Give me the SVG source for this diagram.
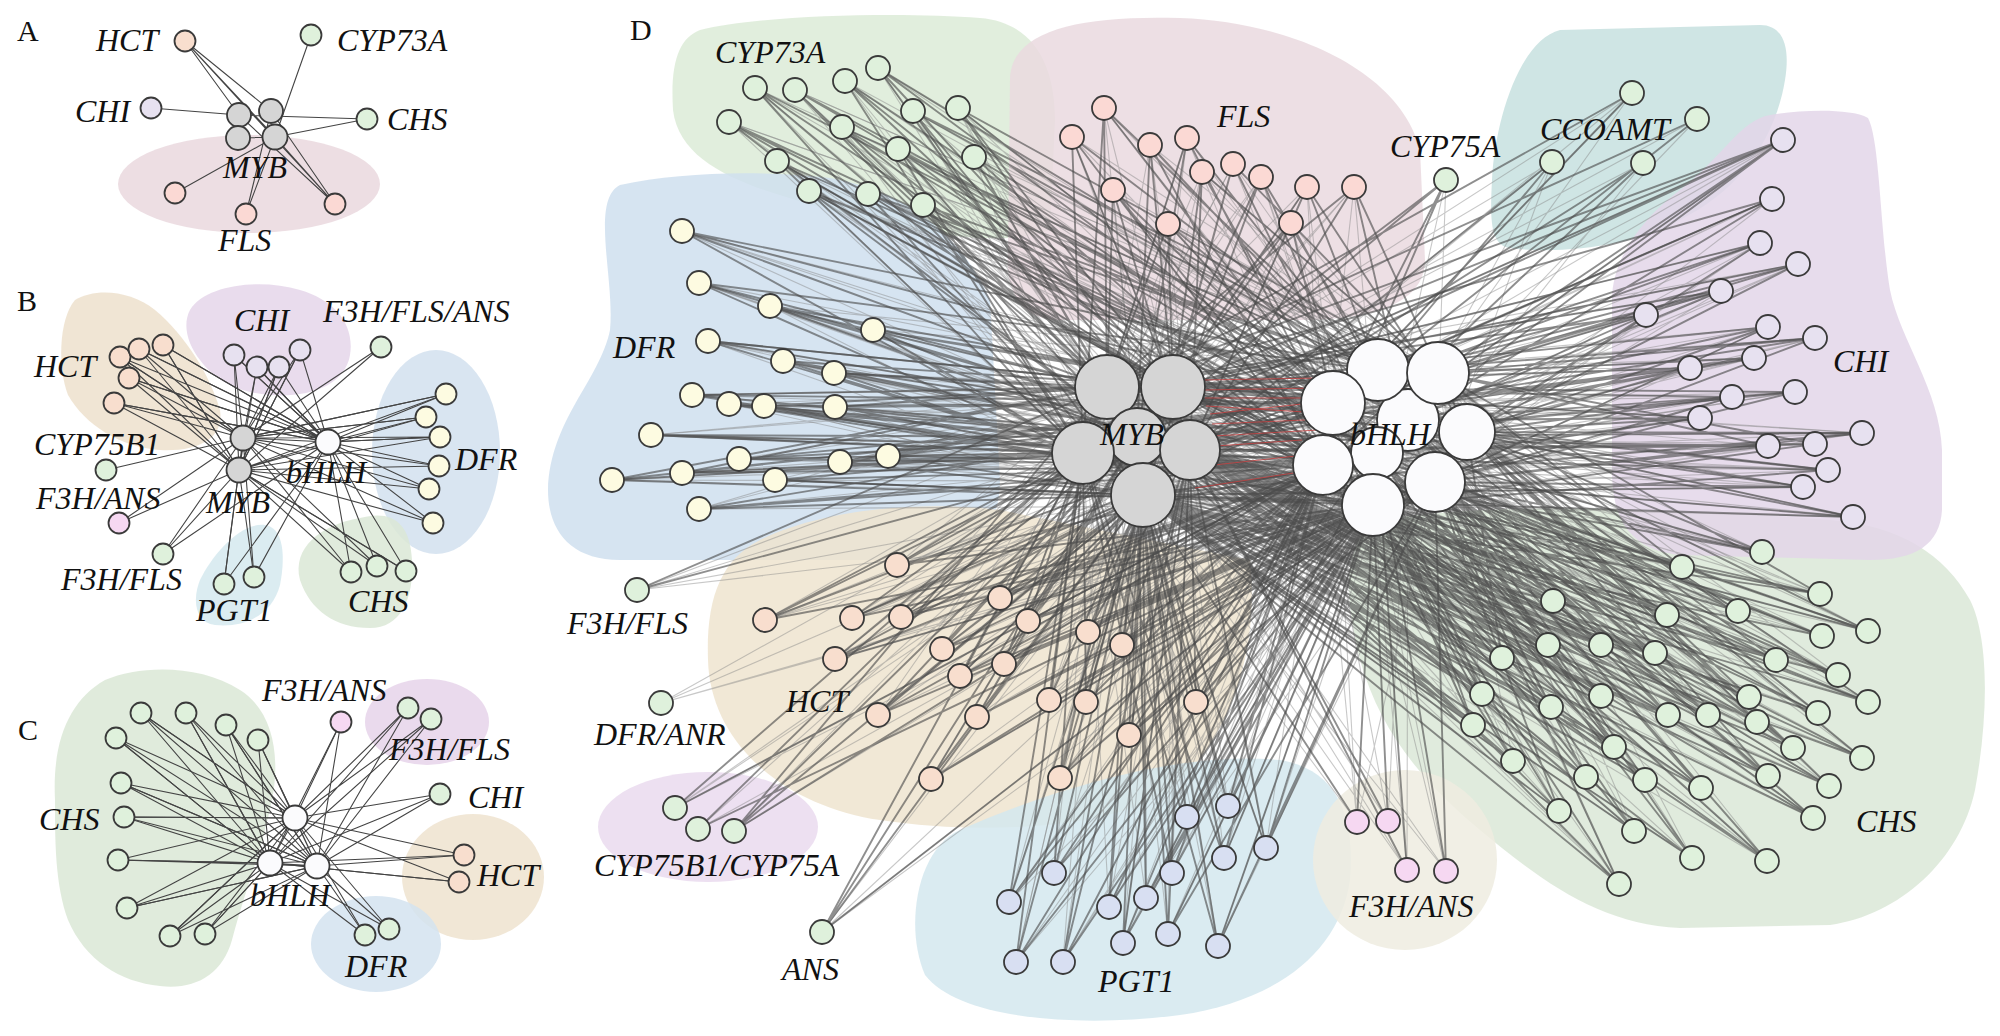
<svg xmlns="http://www.w3.org/2000/svg" width="2000" height="1036" viewBox="0 0 2000 1036">
<style>
.lbl{font-family:"Liberation Serif","Times New Roman",serif;font-style:italic;font-size:32px;fill:#111}
.pl{font-family:"Liberation Serif","Times New Roman",serif;font-size:30px;fill:#111}
.n{stroke:#3a3a3a;stroke-width:1.8}
.g{fill:#dff1dc}.p{fill:#f8dece}.f{fill:#fbd9d4}.v{fill:#e7e1f0}.y{fill:#fdfbe1}.k{fill:#f6d8f2}.b{fill:#d8dff2}.m{fill:#d5d5d5}.w{fill:#fbfbfd}
.e{fill:none;stroke:#444;stroke-width:1.1}
.ed{fill:none;stroke:#4a4a4a;stroke-opacity:.62;stroke-width:1.9;stroke-linejoin:round}
.el{fill:none;stroke:#858585;stroke-opacity:.45;stroke-width:1.1;stroke-linejoin:round}
.er{fill:none;stroke:#c84040;stroke-width:1;stroke-opacity:.8}
.blob{fill-opacity:.85}
</style>
<rect width="2000" height="1036" fill="#fff"/>
<g id="hulls">
<ellipse cx="249" cy="184" rx="131" ry="49" fill="#ead8de" class="blob"/>
<path d="M75,300 C95,288 130,290 155,310 C185,335 210,375 220,410 C225,440 195,452 160,450 C120,447 85,425 68,395 C58,370 58,320 75,300 Z" fill="#ede1cc" class="blob"/>
<path d="M190,310 C205,285 260,278 300,290 C335,300 355,325 350,355 C345,385 310,398 270,395 C235,392 215,380 200,360 C188,345 182,325 190,310 Z" fill="#e5d6ea" class="blob"/>
<ellipse cx="436" cy="452" rx="64" ry="102" fill="#d2e1ef" class="blob"/>
<path d="M360,518 C390,510 410,520 412,560 C414,600 400,628 370,628 C335,628 310,610 300,580 C292,548 320,525 360,518 Z" fill="#dbe8d6" class="blob"/>
<path d="M265,525 C285,528 285,560 280,585 C272,615 245,628 215,625 C195,622 192,600 200,580 C212,555 240,522 265,525 Z" fill="#d5e9ef" class="blob"/>
<path d="M55,800 C52,740 70,700 105,680 C140,665 200,664 240,690 C275,712 280,760 272,800 C262,850 245,890 232,940 C222,975 195,990 160,986 C120,982 85,960 68,920 C55,885 55,840 55,800 Z" fill="#dae8d6" class="blob"/>
<ellipse cx="427" cy="722" rx="62" ry="43" fill="#e6d4ea" class="blob"/>
<ellipse cx="473" cy="877" rx="71" ry="63" fill="#efe3cf" class="blob"/>
<ellipse cx="376" cy="944" rx="65" ry="48" fill="#d4e3f0" class="blob"/>
<path d="M700,30 C760,15 900,12 980,18 C1030,22 1055,60 1055,120 L1050,230 C1000,250 900,230 830,210 C760,190 680,170 673,110 C670,60 680,38 700,30 Z" fill="#dcebd7" class="blob"/>
<path d="M1010,80 C1010,30 1080,15 1180,18 C1290,22 1400,70 1420,150 L1425,260 C1425,300 1380,320 1300,320 L1060,320 C1020,320 1005,290 1008,250 Z" fill="#ead9df" class="blob"/>
<path d="M1560,30 L1760,25 C1785,25 1790,50 1785,80 C1775,140 1740,190 1680,220 C1640,245 1560,255 1510,248 C1490,245 1490,220 1492,180 C1495,120 1520,40 1560,30 Z" fill="#c7e0df" class="blob"/>
<path d="M620,185 C680,172 760,170 830,178 C900,190 960,230 990,300 L1000,480 C1000,540 960,560 900,560 L620,560 C570,560 548,530 548,490 C550,420 600,380 610,330 C615,280 590,200 620,185 Z" fill="#cfdfee" class="blob"/>
<path d="M1380,520 C1500,500 1700,510 1830,520 C1900,525 1945,555 1970,600 C1990,640 1988,720 1975,790 C1960,860 1900,915 1830,925 L1680,928 C1600,925 1540,880 1480,830 C1420,780 1380,730 1360,660 C1345,600 1340,540 1380,520 Z" fill="#dbe7d7" class="blob"/>
<path d="M1770,115 C1800,110 1850,108 1868,118 C1880,140 1880,230 1890,290 C1900,340 1940,390 1942,450 L1942,510 C1940,545 1915,560 1870,560 L1680,555 C1630,550 1612,520 1612,470 L1612,300 C1612,260 1640,220 1680,190 C1720,160 1740,120 1770,115 Z" fill="#e3d6e9" class="blob"/>
<path d="M760,540 C820,510 920,500 1000,510 L1250,560 C1260,650 1230,740 1170,790 C1110,830 980,835 880,820 C780,805 710,740 708,660 C706,600 720,560 760,540 Z" fill="#efe4cf" class="blob"/>
<ellipse cx="708" cy="827" rx="110" ry="55" fill="#eadaee" class="blob"/>
<path d="M960,830 C1050,790 1180,750 1280,760 C1340,770 1355,820 1350,880 C1340,950 1280,1000 1180,1015 C1080,1028 960,1020 925,975 C905,930 915,850 960,830 Z" fill="#d3e8ee" class="blob"/>
<ellipse cx="1405" cy="860" rx="92" ry="90" fill="#efece0" class="blob"/>
</g>
<g id="connectors">
<path class="e" d="M185,41 L239,115 M185,41 L271,111 M185,41 L275,137 M185,41 L335,204 M311,35 L275,137 M151,108 L239,115 M367,119 L239,115 M367,119 L275,137 M175,193 L275,137 M246,214 L271,111 M246,214 L275,137 M335,204 L239,115 M335,204 L271,111 M335,204 L275,137 M238,138 L275,137"/>
<path class="e" d="M243,438 L120,357 328,442 139,349 239,470 163,345 328,442 129,378 243,438 114,403 328,442 234,355 243,438 257,367 328,442 279,367 239,470 300,350 328,442 446,394 243,438 426,417 328,442 440,437 239,470 439,466 328,442 429,489 243,438 433,523 328,442 351,572 243,438 377,566 328,442 406,571 239,470 224,584 328,442 254,577 243,438 163,554 328,442"/>
<path class="e" d="M239,470 L120,357 243,438 139,349 328,442 163,345 239,470 129,378 328,442 114,403 239,470 234,355 328,442 257,367 239,470 279,367 243,438 300,350 239,470 381,347 243,438 446,394 239,470 426,417 243,438 440,437 328,442 M239,470 L429,489 M243,438 L439,466 M239,470 L433,523 M239,470 L351,572 M239,470 L406,571 M239,470 L377,566 M243,438 L224,584 M239,470 L254,577 M239,470 L163,554 M243,438 L119,523 M239,470 L119,523 M243,438 L106,470 M243,438 L328,442 M239,470 L328,442"/>
<path class="e" d="M295,818 L141,713 270,863 186,713 317,866 226,725 295,818 258,740 270,863 116,738 317,866 121,783 295,818 124,817 270,863 118,860 317,866 127,908 295,818 170,936 270,863 205,934 317,866 341,722 270,863 408,708 295,818 431,719 270,863 440,794 317,866 464,855 295,818 459,882 270,863 365,935 317,866 389,929 295,818"/>
<path class="e" d="M317,866 L141,713 295,818 186,713 270,863 226,725 317,866 258,740 295,818 116,738 270,863 121,783 317,866 124,817 295,818 118,860 270,863 127,908 317,866 170,936 295,818 205,934 270,863 M295,818 L341,722 M317,866 L408,708 M317,866 L431,719 M295,818 L440,794 M270,863 L464,855 M270,863 L459,882 M295,818 L365,935 M270,863 L389,929 M270,863 L317,866 M295,818 L270,863 M295,818 L317,866"/>
<path class="el" d="M1467,432 L878,68 1143,495 845,81 1435,482 755,88 1190,450 795,90 1438,373 729,122 1083,453 842,127 1467,432 913,111 1143,495 958,108 1435,482 777,161 1137,437 898,149 1438,373 974,157 1190,450 809,191 1467,432 868,194 1083,453 923,205 1435,482"/>
<path class="el" d="M1408,420 L878,68 1137,437 845,81 1378,370 755,88 1143,495 795,90 1438,373 729,122 1190,450 842,127 1323,465 913,111 1137,437 958,108 1373,505 777,161 1190,450 898,149 1377,453 974,157 1083,453 809,191 1408,420 868,194 1173,387 923,205 1333,403"/>
<path class="el" d="M1143,495 L1104,108 1377,453 1072,137 1190,450 1150,145 1435,482 1187,138 1143,495 1113,190 1438,373 1202,172 1083,453 1233,164 1373,505 1261,177 1107,387 1307,187 1323,465 1354,187 1137,437 1168,224 1467,432 1291,223 1143,495"/>
<path class="el" d="M1408,420 L1104,108 1173,387 1072,137 1438,373 1150,145 1107,387 1187,138 1323,465 1113,190 1137,437 1202,172 1378,370 1233,164 1083,453 1261,177 1333,403 1307,187 1173,387 1354,187 1377,453 1168,224 1190,450 1291,223 1373,505"/>
<path class="el" d="M1377,453 L1632,93 1143,495 1552,162 1408,420 1697,119 1083,453 1643,163 1373,505 1446,180 1435,482 1552,162 1173,387 1632,93 1333,403"/>
<path class="el" d="M1083,453 L1783,140 1333,403 1772,199 1143,495 1760,243 1377,453 1798,264 1107,387 1721,291 1373,505 1646,315 1137,437 1768,327 1323,465 1815,338 1143,495 1754,358 1378,370 1690,368 1083,453 1732,397 1333,403 1795,392 1143,495 1700,418 1377,453 1862,433 1107,387 1768,446 1323,465 1815,444 1137,437 1828,470 1377,453 1803,487 1083,453 1853,517 1373,505"/>
<path class="el" d="M1323,465 L1783,140 1190,450 1772,199 1373,505 1760,243 1173,387 1798,264 1323,465 1721,291 1190,450 1646,315 1435,482 1768,327 1107,387 1815,338 1323,465 1754,358 1173,387 1690,368 1373,505 1732,397 1143,495 1795,392 1323,465 1700,418 1173,387 1862,433 1373,505 1768,446 1190,450 1815,444 1323,465 1828,470 1143,495 1803,487 1333,403 1853,517 1190,450"/>
<path class="el" d="M1173,387 L682,231 1467,432 699,283 1190,450 770,306 1438,373 873,330 1143,495 708,341 1435,482 783,361 1190,450 834,373 1408,420 692,395 1173,387 729,404 1467,432 764,406 1143,495 835,407 1438,373 651,435 1190,450 739,459 1435,482 840,462 1173,387 888,456 1408,420 682,473 1190,450 612,480 1435,482 775,480 1173,387 699,509 1467,432"/>
<path class="el" d="M1435,482 L682,231 1137,437 699,283 1373,505 770,306 1143,495 873,330 1377,453 708,341 1190,450 783,361 1373,505 834,373 1173,387 692,395 1377,453 729,404 1143,495 764,406 1373,505 835,407 1190,450 651,435 1378,370 739,459 1173,387 840,462 1373,505 888,456 1190,450 682,473 1377,453 612,480 1143,495 775,480 1373,505 699,509 1107,387"/>
<path class="el" d="M1107,387 L897,565 1408,420 765,620 1190,450 852,618 1378,370 901,617 1107,387 1000,598 1467,432 1028,621 1173,387 835,659 1377,453 942,649 1107,387 1004,664 1438,373 960,676 1190,450 1088,632 1408,420 1122,645 1107,387 878,715 1467,432 977,717 1173,387 1049,700 1333,403 1086,702 1083,453 1196,702 1378,370 1129,735 1137,437 931,779 1377,453 1060,778 1467,432"/>
<path class="el" d="M1438,373 L897,565 1173,387 765,620 1467,432 852,618 1137,437 901,617 1435,482 1000,598 1107,387 1028,621 1373,505 835,659 1190,450 942,649 1438,373 1004,664 1143,495 960,676 1408,420 1088,632 1173,387 1122,645 1378,370 878,715 1190,450 977,717 1438,373 1049,700 1137,437 1086,702 1467,432 1196,702 1107,387 1129,735 1435,482 931,779 1190,450 1060,778 1333,403"/>
<path class="el" d="M1083,453 L637,590 1373,505 661,703 1143,495 675,808 1377,453 698,829 1137,437 661,703 1435,482 822,932 1323,465 637,590 1173,387 734,831 1408,420 675,808 1190,450 822,932 1467,432"/>
<path class="el" d="M1107,387 L1187,817 1333,403 1228,806 1173,387 1224,858 1408,420 1054,873 1190,450 1172,873 1378,370 1009,902 1137,437 1146,898 1438,373 1109,907 1190,450 1123,943 1377,453 1168,934 1107,387 1218,946 1467,432 1016,962 1137,437 1063,962 1408,420 1266,848 1173,387"/>
<path class="el" d="M1408,420 L1187,817 1083,453 1228,806 1378,370 1224,858 1107,387 1054,873 1377,453 1172,873 1173,387 1009,902 1435,482 1146,898 1083,453 1109,907 1333,403 1123,943 1173,387 1168,934 1373,505 1218,946 1137,437 1016,962 1377,453 1063,962 1107,387 1266,848 1323,465"/>
<path class="el" d="M1083,453 L1357,822 1323,465 1388,821 1137,437 1407,870 1373,505 1446,871 1107,387 1388,821 1408,420 1407,870 1143,495 1446,871 1333,403 1357,822 1435,482"/>
<path class="el" d="M1378,370 L1762,552 1107,387 1682,567 1408,420 1820,594 1083,453 1553,601 1438,373 1667,615 1107,387 1738,611 1408,420 1868,631 1137,437 1822,636 1333,403 1548,645 1083,453 1601,645 1378,370 1655,653 1107,387 1502,658 1438,373 1776,660 1083,453 1838,675 1333,403 1482,694 1107,387 1601,696 1408,420 1749,697 1083,453 1868,702 1378,370 1551,707 1137,437 1668,715 1438,373 1708,715 1107,387 1757,722 1408,420 1818,713 1083,453 1473,725 1333,403 1614,747 1107,387 1793,748 1378,370 1862,758 1083,453 1513,761 1438,373 1586,777 1107,387 1645,780 1408,420 1701,788 1137,437 1768,776 1378,370 1829,786 1083,453 1559,811 1333,403 1813,818 1107,387 1634,831 1438,373 1692,858 1083,453 1767,861 1378,370 1619,884 1107,387"/>
<path class="el" d="M1323,465 L1762,552 1173,387 1682,567 1333,403 1820,594 1107,387 1553,601 1323,465 1667,615 1173,387 1738,611 1378,370 1868,631 1083,453 1822,636 1323,465 1548,645 1173,387 1601,645 1333,403 1655,653 1083,453 1502,658 1323,465 1776,660 1107,387 1838,675 1438,373 1482,694 1137,437 1601,696 1323,465 1749,697 1173,387 1868,702 1333,403 1551,707 1107,387 1668,715 1323,465 1708,715 1083,453 1757,722 1378,370 1818,713 1173,387 1473,725 1323,465 1614,747 1137,437 1793,748 1408,420 1862,758 1173,387 1513,761 1377,453 1586,777 1083,453 1645,780 1323,465 1701,788 1107,387 1768,776 1333,403 1829,786 1173,387 1559,811 1323,465 1813,818 1083,453 1634,831 1378,370 1692,858 1173,387 1767,861 1323,465 1619,884 1137,437"/>
<path class="ed" d="M1107,387 L878,68 1173,387 845,81 1083,453 755,88 1107,387 795,90 1137,437 729,122 1173,387 842,127 1107,387 913,111 1190,450 958,108 1173,387 777,161 1083,453 898,149 1107,387 974,157 1137,437 809,191 1173,387 868,194 1143,495 923,205 1107,387"/>
<path class="ed" d="M1378,370 L878,68 1333,403 845,81 1323,465 755,88 1408,420 795,90 1333,403 729,122 1377,453 842,127 1378,370 913,111 1438,373 958,108 1333,403 777,161 1373,505 898,149 1408,420 974,157 1323,465 809,191 1333,403 868,194 1378,370 923,205 1377,453"/>
<path class="ed" d="M1107,387 L1104,108 1083,453 1072,137 1173,387 1150,145 1137,437 1187,138 1107,387 1113,190 1190,450 1202,172 1173,387 1233,164 1143,495 1261,177 1137,437 1307,187 1190,450 1354,187 1107,387 1168,224 1173,387 1291,223 1083,453"/>
<path class="ed" d="M1333,403 L1104,108 1378,370 1072,137 1323,465 1150,145 1408,420 1187,138 1373,505 1113,190 1333,403 1202,172 1438,373 1233,164 1377,453 1261,177 1378,370 1307,187 1467,432 1354,187 1408,420 1168,224 1333,403 1291,223 1435,482"/>
<path class="ed" d="M1173,387 L1446,180 1333,403 1632,93 1107,387 1697,119 1378,370 1552,162 1190,450 1643,163 1323,465 1446,180 1137,437"/>
<path class="ed" d="M1173,387 L1783,140 1107,387 1772,199 1190,450 1760,243 1173,387 1798,264 1137,437 1721,291 1107,387 1646,315 1190,450 1768,327 1173,387 1815,338 1083,453 1754,358 1137,437 1690,368 1107,387 1732,397 1190,450 1795,392 1173,387 1700,418 1143,495 1862,433 1137,437 1768,446 1190,450 1815,444 1083,453 1828,470 1107,387 1803,487 1143,495 1853,517 1173,387"/>
<path class="ed" d="M1438,373 L1783,140 1408,420 1772,199 1378,370 1760,243 1467,432 1798,264 1438,373 1721,291 1408,420 1646,315 1467,432 1768,327 1435,482 1815,338 1438,373 1754,358 1408,420 1690,368 1467,432 1732,397 1435,482 1795,392 1408,420 1700,418 1467,432 1862,433 1435,482 1768,446 1438,373 1815,444 1373,505 1828,470 1467,432 1803,487 1435,482 1853,517 1408,420 M1083,453 L1783,140 1137,437 M1783,140 L1323,465"/>
<path class="ed" d="M1107,387 L682,231 1083,453 699,283 1107,387 770,306 1137,437 873,330 1083,453 708,341 1173,387 783,361 1083,453 834,373 1107,387 692,395 1137,437 729,404 1083,453 764,406 1107,387 835,407 1083,453 651,435 1137,437 739,459 1083,453 840,462 1143,495 888,456 1083,453 682,473 1107,387 612,480 1083,453 775,480 1143,495 699,509 1137,437"/>
<path class="ed" d="M1333,403 L682,231 1378,370 699,283 1323,465 770,306 1408,420 873,330 1333,403 708,341 1377,453 783,361 1323,465 834,373 1333,403 692,395 1373,505 729,404 1323,465 764,406 1333,403 835,407 1377,453 651,435 1323,465 739,459 1333,403 840,462 1378,370 888,456 1323,465 682,473 1333,403 612,480 1373,505 775,480 1323,465 699,509 1377,453"/>
<path class="ed" d="M1083,453 L897,565 1137,437 765,620 1083,453 852,618 1143,495 901,617 1137,437 1000,598 1143,495 1028,621 1083,453 835,659 1143,495 942,649 1137,437 1004,664 1083,453 960,676 1143,495 1088,632 1190,450 1122,645 1143,495 878,715 1137,437 977,717 1143,495 1049,700 1083,453 1086,702 1143,495 1196,702 1190,450 1129,735 1143,495 931,779 1137,437 1060,778 1143,495"/>
<path class="ed" d="M1323,465 L897,565 1373,505 765,620 1333,403 852,618 1373,505 901,617 1377,453 1000,598 1323,465 1028,621 1373,505 835,659 1323,465 942,649 1435,482 1004,664 1373,505 960,676 1377,453 1088,632 1373,505 1122,645 1323,465 878,715 1373,505 977,717 1435,482 1049,700 1373,505 1086,702 1323,465 1196,702 1373,505 1129,735 1435,482 931,779 1373,505 1060,778 1323,465"/>
<path class="ed" d="M1083,453 L822,932 1143,495 734,831 1137,437 822,932 1373,505 698,829 1083,453 675,808 1323,465 734,831 1107,387 637,590 1333,403"/>
<path class="ed" d="M1143,495 L1187,817 1137,437 1228,806 1143,495 1224,858 1083,453 1054,873 1143,495 1172,873 1083,453 1009,902 1143,495 1146,898 1137,437 1109,907 1143,495 1123,943 1190,450 1168,934 1143,495 1218,946 1083,453 1016,962 1143,495 1063,962 1190,450 1266,848 1143,495"/>
<path class="ed" d="M1373,505 L1187,817 1323,465 1228,806 1373,505 1224,858 1323,465 1054,873 1373,505 1172,873 1323,465 1009,902 1377,453 1146,898 1373,505 1109,907 1323,465 1123,943 1373,505 1168,934 1435,482 1218,946 1373,505 1016,962 1323,465 1063,962 1373,505 1266,848 1435,482"/>
<path class="ed" d="M1143,495 L1357,822 1373,505 1388,821 1190,450 1407,870 1377,453 1446,871 1435,482"/>
<path class="ed" d="M1467,432 L1762,552 1435,482 1682,567 1438,373 1820,594 1373,505 1553,601 1408,420 1667,615 1435,482 1738,611 1467,432 1868,631 1435,482 1822,636 1377,453 1548,645 1373,505 1601,645 1435,482 1655,653 1323,465 1502,658 1467,432 1776,660 1435,482 1838,675 1373,505 1482,694 1377,453 1601,696 1435,482 1749,697 1467,432 1868,702 1373,505 1551,707 1435,482 1668,715 1408,420 1708,715 1435,482 1757,722 1467,432 1818,713 1373,505 1473,725 1377,453 1614,747 1435,482 1793,748 1467,432 1862,758 1373,505 1513,761 1323,465 1586,777 1435,482 1645,780 1373,505 1701,788 1435,482 1768,776 1467,432 1829,786 1373,505 1559,811 1435,482 1813,818 1373,505 1634,831 1377,453 1692,858 1435,482 1767,861 1373,505 1619,884 1435,482"/>
<path class="ed" d="M1190,450 L1762,552 1173,387 1682,567 1190,450 1820,594 1143,495 1553,601 1190,450 1667,615 1137,437 1738,611 1190,450 1868,631 1173,387 1822,636 1143,495 1548,645 1190,450 1601,645 1143,495 1655,653 1137,437 1502,658 1190,450 1776,660 1173,387 1838,675 1143,495 1482,694 1190,450 1601,696 1137,437 1749,697 1190,450 1868,702 1143,495 1551,707 1190,450 1668,715 1143,495 1708,715 1190,450 1757,722 1173,387 1818,713 1143,495 1473,725 1190,450 1614,747 1143,495 1793,748 1190,450 1862,758 1143,495 1513,761 1137,437 1586,777 1190,450 1645,780 1143,495 1701,788 1190,450 1768,776 1143,495 1829,786 1190,450 1559,811 1143,495 1813,818 1190,450 1634,831 1143,495 1692,858 1137,437 1767,861 1190,450 1619,884 1143,495"/>
<path class="er" d="M1203,380 L1320,378 M1204,390 L1315,388 M1205,398 L1310,398 M1206,406 L1305,412 M1210,414 L1302,404 M1212,424 L1305,420 M1214,436 L1318,430 M1216,446 L1302,440 M1205,466 L1296,456 M1195,488 L1300,472"/>
</g>
<g id="nodesA">
<g id="a-hct"><circle class="n p" cx="185" cy="41" r="10.5"/></g>
<g id="a-cyp73a"><circle class="n g" cx="311" cy="35" r="10.5"/></g>
<g id="a-chi"><circle class="n v" cx="151" cy="108" r="10.5"/></g>
<g id="a-chs"><circle class="n g" cx="367" cy="119" r="10.5"/></g>
<g id="a-myb1"><circle class="n m" cx="239" cy="115" r="12"/></g>
<g id="a-myb2"><circle class="n m" cx="271" cy="111" r="12"/></g>
<g id="a-myb3"><circle class="n m" cx="238" cy="138" r="12"/></g>
<g id="a-myb4"><circle class="n m" cx="275" cy="137" r="12.5"/></g>
<g id="a-fls1"><circle class="n f" cx="175" cy="193" r="10.5"/></g>
<g id="a-fls2"><circle class="n f" cx="246" cy="214" r="10.5"/></g>
<g id="a-fls3"><circle class="n f" cx="335" cy="204" r="10.5"/></g>
</g>
<g id="nodesB">
<g id="b-hct1"><circle class="n p" cx="120" cy="357" r="10.5"/></g>
<g id="b-hct2"><circle class="n p" cx="139" cy="349" r="10.5"/></g>
<g id="b-hct3"><circle class="n p" cx="163" cy="345" r="10.5"/></g>
<g id="b-hct4"><circle class="n p" cx="129" cy="378" r="10.5"/></g>
<g id="b-hct5"><circle class="n p" cx="114" cy="403" r="10.5"/></g>
<g id="b-chi1"><circle class="n v" cx="234" cy="355" r="10.5"/></g>
<g id="b-chi2"><circle class="n v" cx="257" cy="367" r="10.5"/></g>
<g id="b-chi3"><circle class="n v" cx="279" cy="367" r="10.5"/></g>
<g id="b-chi4"><circle class="n v" cx="300" cy="350" r="10.5"/></g>
<g id="b-ffa"><circle class="n g" cx="381" cy="347" r="10.5"/></g>
<g id="b-dfr1"><circle class="n y" cx="446" cy="394" r="10.5"/></g>
<g id="b-dfr2"><circle class="n y" cx="426" cy="417" r="10.5"/></g>
<g id="b-dfr3"><circle class="n y" cx="440" cy="437" r="10.5"/></g>
<g id="b-dfr4"><circle class="n y" cx="439" cy="466" r="10.5"/></g>
<g id="b-dfr5"><circle class="n y" cx="429" cy="489" r="10.5"/></g>
<g id="b-dfr6"><circle class="n y" cx="433" cy="523" r="10.5"/></g>
<g id="b-chs1"><circle class="n g" cx="351" cy="572" r="10.5"/></g>
<g id="b-chs2"><circle class="n g" cx="377" cy="566" r="10.5"/></g>
<g id="b-chs3"><circle class="n g" cx="406" cy="571" r="10.5"/></g>
<g id="b-pgt1"><circle class="n g" cx="224" cy="584" r="10.5"/></g>
<g id="b-pgt2"><circle class="n g" cx="254" cy="577" r="10.5"/></g>
<g id="b-f3hfls"><circle class="n g" cx="163" cy="554" r="10.5"/></g>
<g id="b-f3hans"><circle class="n k" cx="119" cy="523" r="10.5"/></g>
<g id="b-cyp75b1"><circle class="n g" cx="106" cy="470" r="10.5"/></g>
<g id="b-myb1"><circle class="n m" cx="243" cy="438" r="12.5"/></g>
<g id="b-myb2"><circle class="n m" cx="239" cy="470" r="12.5"/></g>
<g id="b-bhlh"><circle class="n w" cx="328" cy="442" r="12.5"/></g>
</g>
<g id="nodesC">
<g id="c-chs1"><circle class="n g" cx="141" cy="713" r="10.5"/></g>
<g id="c-chs2"><circle class="n g" cx="186" cy="713" r="10.5"/></g>
<g id="c-chs3"><circle class="n g" cx="226" cy="725" r="10.5"/></g>
<g id="c-chs4"><circle class="n g" cx="258" cy="740" r="10.5"/></g>
<g id="c-chs5"><circle class="n g" cx="116" cy="738" r="10.5"/></g>
<g id="c-chs6"><circle class="n g" cx="121" cy="783" r="10.5"/></g>
<g id="c-chs7"><circle class="n g" cx="124" cy="817" r="10.5"/></g>
<g id="c-chs8"><circle class="n g" cx="118" cy="860" r="10.5"/></g>
<g id="c-chs9"><circle class="n g" cx="127" cy="908" r="10.5"/></g>
<g id="c-chs10"><circle class="n g" cx="170" cy="936" r="10.5"/></g>
<g id="c-chs11"><circle class="n g" cx="205" cy="934" r="10.5"/></g>
<g id="c-f3hans"><circle class="n k" cx="341" cy="722" r="10.5"/></g>
<g id="c-f3hfls1"><circle class="n g" cx="408" cy="708" r="10.5"/></g>
<g id="c-f3hfls2"><circle class="n g" cx="431" cy="719" r="10.5"/></g>
<g id="c-chi"><circle class="n g" cx="440" cy="794" r="10.5"/></g>
<g id="c-hct1"><circle class="n p" cx="464" cy="855" r="10.5"/></g>
<g id="c-hct2"><circle class="n p" cx="459" cy="882" r="10.5"/></g>
<g id="c-dfr1"><circle class="n g" cx="365" cy="935" r="10.5"/></g>
<g id="c-dfr2"><circle class="n g" cx="389" cy="929" r="10.5"/></g>
<g id="c-bhlh1"><circle class="n w" cx="295" cy="818" r="12.5"/></g>
<g id="c-bhlh2"><circle class="n w" cx="270" cy="863" r="12.5"/></g>
<g id="c-bhlh3"><circle class="n w" cx="317" cy="866" r="12.5"/></g>
</g>
<g id="nodesD">
<g id="d-cyp73a"><circle class="n g" cx="878" cy="68" r="12"/><circle class="n g" cx="845" cy="81" r="12"/><circle class="n g" cx="755" cy="88" r="12"/><circle class="n g" cx="795" cy="90" r="12"/><circle class="n g" cx="729" cy="122" r="12"/><circle class="n g" cx="842" cy="127" r="12"/><circle class="n g" cx="913" cy="111" r="12"/><circle class="n g" cx="958" cy="108" r="12"/><circle class="n g" cx="777" cy="161" r="12"/><circle class="n g" cx="898" cy="149" r="12"/><circle class="n g" cx="974" cy="157" r="12"/><circle class="n g" cx="809" cy="191" r="12"/><circle class="n g" cx="868" cy="194" r="12"/><circle class="n g" cx="923" cy="205" r="12"/></g>
<g id="d-fls"><circle class="n f" cx="1104" cy="108" r="12"/><circle class="n f" cx="1072" cy="137" r="12"/><circle class="n f" cx="1150" cy="145" r="12"/><circle class="n f" cx="1187" cy="138" r="12"/><circle class="n f" cx="1113" cy="190" r="12"/><circle class="n f" cx="1202" cy="172" r="12"/><circle class="n f" cx="1233" cy="164" r="12"/><circle class="n f" cx="1261" cy="177" r="12"/><circle class="n f" cx="1307" cy="187" r="12"/><circle class="n f" cx="1354" cy="187" r="12"/><circle class="n f" cx="1168" cy="224" r="12"/><circle class="n f" cx="1291" cy="223" r="12"/></g>
<g id="d-cyp75a"><circle class="n g" cx="1446" cy="180" r="12"/></g>
<g id="d-ccoamt"><circle class="n g" cx="1632" cy="93" r="12"/><circle class="n g" cx="1697" cy="119" r="12"/><circle class="n g" cx="1552" cy="162" r="12"/><circle class="n g" cx="1643" cy="163" r="12"/></g>
<g id="d-chi"><circle class="n v" cx="1783" cy="140" r="12"/><circle class="n v" cx="1772" cy="199" r="12"/><circle class="n v" cx="1760" cy="243" r="12"/><circle class="n v" cx="1798" cy="264" r="12"/><circle class="n v" cx="1721" cy="291" r="12"/><circle class="n v" cx="1646" cy="315" r="12"/><circle class="n v" cx="1768" cy="327" r="12"/><circle class="n v" cx="1815" cy="338" r="12"/><circle class="n v" cx="1754" cy="358" r="12"/><circle class="n v" cx="1690" cy="368" r="12"/><circle class="n v" cx="1732" cy="397" r="12"/><circle class="n v" cx="1795" cy="392" r="12"/><circle class="n v" cx="1700" cy="418" r="12"/><circle class="n v" cx="1862" cy="433" r="12"/><circle class="n v" cx="1768" cy="446" r="12"/><circle class="n v" cx="1815" cy="444" r="12"/><circle class="n v" cx="1828" cy="470" r="12"/><circle class="n v" cx="1803" cy="487" r="12"/><circle class="n v" cx="1853" cy="517" r="12"/></g>
<g id="d-dfr"><circle class="n y" cx="682" cy="231" r="12"/><circle class="n y" cx="699" cy="283" r="12"/><circle class="n y" cx="770" cy="306" r="12"/><circle class="n y" cx="873" cy="330" r="12"/><circle class="n y" cx="708" cy="341" r="12"/><circle class="n y" cx="783" cy="361" r="12"/><circle class="n y" cx="834" cy="373" r="12"/><circle class="n y" cx="692" cy="395" r="12"/><circle class="n y" cx="729" cy="404" r="12"/><circle class="n y" cx="764" cy="406" r="12"/><circle class="n y" cx="835" cy="407" r="12"/><circle class="n y" cx="651" cy="435" r="12"/><circle class="n y" cx="739" cy="459" r="12"/><circle class="n y" cx="840" cy="462" r="12"/><circle class="n y" cx="888" cy="456" r="12"/><circle class="n y" cx="682" cy="473" r="12"/><circle class="n y" cx="612" cy="480" r="12"/><circle class="n y" cx="775" cy="480" r="12"/><circle class="n y" cx="699" cy="509" r="12"/></g>
<g id="d-hct"><circle class="n p" cx="897" cy="565" r="12"/><circle class="n p" cx="765" cy="620" r="12"/><circle class="n p" cx="852" cy="618" r="12"/><circle class="n p" cx="901" cy="617" r="12"/><circle class="n p" cx="1000" cy="598" r="12"/><circle class="n p" cx="1028" cy="621" r="12"/><circle class="n p" cx="835" cy="659" r="12"/><circle class="n p" cx="942" cy="649" r="12"/><circle class="n p" cx="1004" cy="664" r="12"/><circle class="n p" cx="960" cy="676" r="12"/><circle class="n p" cx="1088" cy="632" r="12"/><circle class="n p" cx="1122" cy="645" r="12"/><circle class="n p" cx="878" cy="715" r="12"/><circle class="n p" cx="977" cy="717" r="12"/><circle class="n p" cx="1049" cy="700" r="12"/><circle class="n p" cx="1086" cy="702" r="12"/><circle class="n p" cx="1196" cy="702" r="12"/><circle class="n p" cx="1129" cy="735" r="12"/><circle class="n p" cx="931" cy="779" r="12"/><circle class="n p" cx="1060" cy="778" r="12"/></g>
<g id="d-f3hfls"><circle class="n g" cx="637" cy="590" r="12"/></g>
<g id="d-dfranr"><circle class="n g" cx="661" cy="703" r="12"/></g>
<g id="d-cyp75b1"><circle class="n g" cx="675" cy="808" r="12"/><circle class="n g" cx="698" cy="829" r="12"/><circle class="n g" cx="734" cy="831" r="12"/></g>
<g id="d-ans"><circle class="n g" cx="822" cy="932" r="12"/></g>
<g id="d-pgt1"><circle class="n b" cx="1187" cy="817" r="12"/><circle class="n b" cx="1228" cy="806" r="12"/><circle class="n b" cx="1224" cy="858" r="12"/><circle class="n b" cx="1054" cy="873" r="12"/><circle class="n b" cx="1172" cy="873" r="12"/><circle class="n b" cx="1009" cy="902" r="12"/><circle class="n b" cx="1146" cy="898" r="12"/><circle class="n b" cx="1109" cy="907" r="12"/><circle class="n b" cx="1123" cy="943" r="12"/><circle class="n b" cx="1168" cy="934" r="12"/><circle class="n b" cx="1218" cy="946" r="12"/><circle class="n b" cx="1016" cy="962" r="12"/><circle class="n b" cx="1063" cy="962" r="12"/><circle class="n b" cx="1266" cy="848" r="12"/></g>
<g id="d-f3hans"><circle class="n k" cx="1357" cy="822" r="12"/><circle class="n k" cx="1388" cy="821" r="12"/><circle class="n k" cx="1407" cy="870" r="12"/><circle class="n k" cx="1446" cy="871" r="12"/></g>
<g id="d-chs"><circle class="n g" cx="1762" cy="552" r="12"/><circle class="n g" cx="1682" cy="567" r="12"/><circle class="n g" cx="1820" cy="594" r="12"/><circle class="n g" cx="1553" cy="601" r="12"/><circle class="n g" cx="1667" cy="615" r="12"/><circle class="n g" cx="1738" cy="611" r="12"/><circle class="n g" cx="1868" cy="631" r="12"/><circle class="n g" cx="1822" cy="636" r="12"/><circle class="n g" cx="1548" cy="645" r="12"/><circle class="n g" cx="1601" cy="645" r="12"/><circle class="n g" cx="1655" cy="653" r="12"/><circle class="n g" cx="1502" cy="658" r="12"/><circle class="n g" cx="1776" cy="660" r="12"/><circle class="n g" cx="1838" cy="675" r="12"/><circle class="n g" cx="1482" cy="694" r="12"/><circle class="n g" cx="1601" cy="696" r="12"/><circle class="n g" cx="1749" cy="697" r="12"/><circle class="n g" cx="1868" cy="702" r="12"/><circle class="n g" cx="1551" cy="707" r="12"/><circle class="n g" cx="1668" cy="715" r="12"/><circle class="n g" cx="1708" cy="715" r="12"/><circle class="n g" cx="1757" cy="722" r="12"/><circle class="n g" cx="1818" cy="713" r="12"/><circle class="n g" cx="1473" cy="725" r="12"/><circle class="n g" cx="1614" cy="747" r="12"/><circle class="n g" cx="1793" cy="748" r="12"/><circle class="n g" cx="1862" cy="758" r="12"/><circle class="n g" cx="1513" cy="761" r="12"/><circle class="n g" cx="1586" cy="777" r="12"/><circle class="n g" cx="1645" cy="780" r="12"/><circle class="n g" cx="1701" cy="788" r="12"/><circle class="n g" cx="1768" cy="776" r="12"/><circle class="n g" cx="1829" cy="786" r="12"/><circle class="n g" cx="1559" cy="811" r="12"/><circle class="n g" cx="1813" cy="818" r="12"/><circle class="n g" cx="1634" cy="831" r="12"/><circle class="n g" cx="1692" cy="858" r="12"/><circle class="n g" cx="1767" cy="861" r="12"/><circle class="n g" cx="1619" cy="884" r="12"/></g>
<g id="d-myb"><circle class="n m" cx="1107" cy="387" r="32"/><circle class="n m" cx="1173" cy="387" r="32"/><circle class="n m" cx="1137" cy="437" r="29"/><circle class="n m" cx="1083" cy="453" r="31"/><circle class="n m" cx="1190" cy="450" r="30"/><circle class="n m" cx="1143" cy="495" r="32"/></g>
<g id="d-bhlh"><circle class="n w" cx="1408" cy="420" r="31"/><circle class="n w" cx="1377" cy="453" r="26"/><circle class="n w" cx="1378" cy="370" r="31"/><circle class="n w" cx="1438" cy="373" r="31"/><circle class="n w" cx="1333" cy="403" r="32"/><circle class="n w" cx="1467" cy="432" r="28"/><circle class="n w" cx="1323" cy="465" r="30"/><circle class="n w" cx="1435" cy="482" r="30"/><circle class="n w" cx="1373" cy="505" r="31"/></g>
</g>
<g id="labels">
<text class="pl" x="17" y="41">A</text>
<text class="pl" x="17" y="311">B</text>
<text class="pl" x="18" y="740">C</text>
<text class="pl" x="630" y="40">D</text>
<text class="lbl" x="96" y="51">HCT</text>
<text class="lbl" x="337" y="51">CYP73A</text>
<text class="lbl" x="75" y="122">CHI</text>
<text class="lbl" x="387" y="130">CHS</text>
<text class="lbl" x="223" y="178">MYB</text>
<text class="lbl" x="218" y="251">FLS</text>
<text class="lbl" x="234" y="331">CHI</text>
<text class="lbl" x="323" y="322">F3H/FLS/ANS</text>
<text class="lbl" x="34" y="377">HCT</text>
<text class="lbl" x="34" y="455">CYP75B1</text>
<text class="lbl" x="36" y="509">F3H/ANS</text>
<text class="lbl" x="206" y="513">MYB</text>
<text class="lbl" x="286" y="483">bHLH</text>
<text class="lbl" x="455" y="470">DFR</text>
<text class="lbl" x="61" y="590">F3H/FLS</text>
<text class="lbl" x="196" y="621">PGT1</text>
<text class="lbl" x="348" y="612">CHS</text>
<text class="lbl" x="262" y="701">F3H/ANS</text>
<text class="lbl" x="389" y="760">F3H/FLS</text>
<text class="lbl" x="468" y="808">CHI</text>
<text class="lbl" x="39" y="830">CHS</text>
<text class="lbl" x="477" y="886">HCT</text>
<text class="lbl" x="250" y="906">bHLH</text>
<text class="lbl" x="345" y="977">DFR</text>
<text class="lbl" x="715" y="63">CYP73A</text>
<text class="lbl" x="1217" y="127">FLS</text>
<text class="lbl" x="1390" y="157">CYP75A</text>
<text class="lbl" x="1540" y="140">CCOAMT</text>
<text class="lbl" x="1833" y="372">CHI</text>
<text class="lbl" x="613" y="358">DFR</text>
<text class="lbl" x="1100" y="445">MYB</text>
<text class="lbl" x="1350" y="445">bHLH</text>
<text class="lbl" x="567" y="634">F3H/FLS</text>
<text class="lbl" x="786" y="712">HCT</text>
<text class="lbl" x="594" y="745">DFR/ANR</text>
<text class="lbl" x="594" y="876">CYP75B1/CYP75A</text>
<text class="lbl" x="782" y="980">ANS</text>
<text class="lbl" x="1098" y="992">PGT1</text>
<text class="lbl" x="1349" y="917">F3H/ANS</text>
<text class="lbl" x="1856" y="832">CHS</text>
</g>
</svg>
